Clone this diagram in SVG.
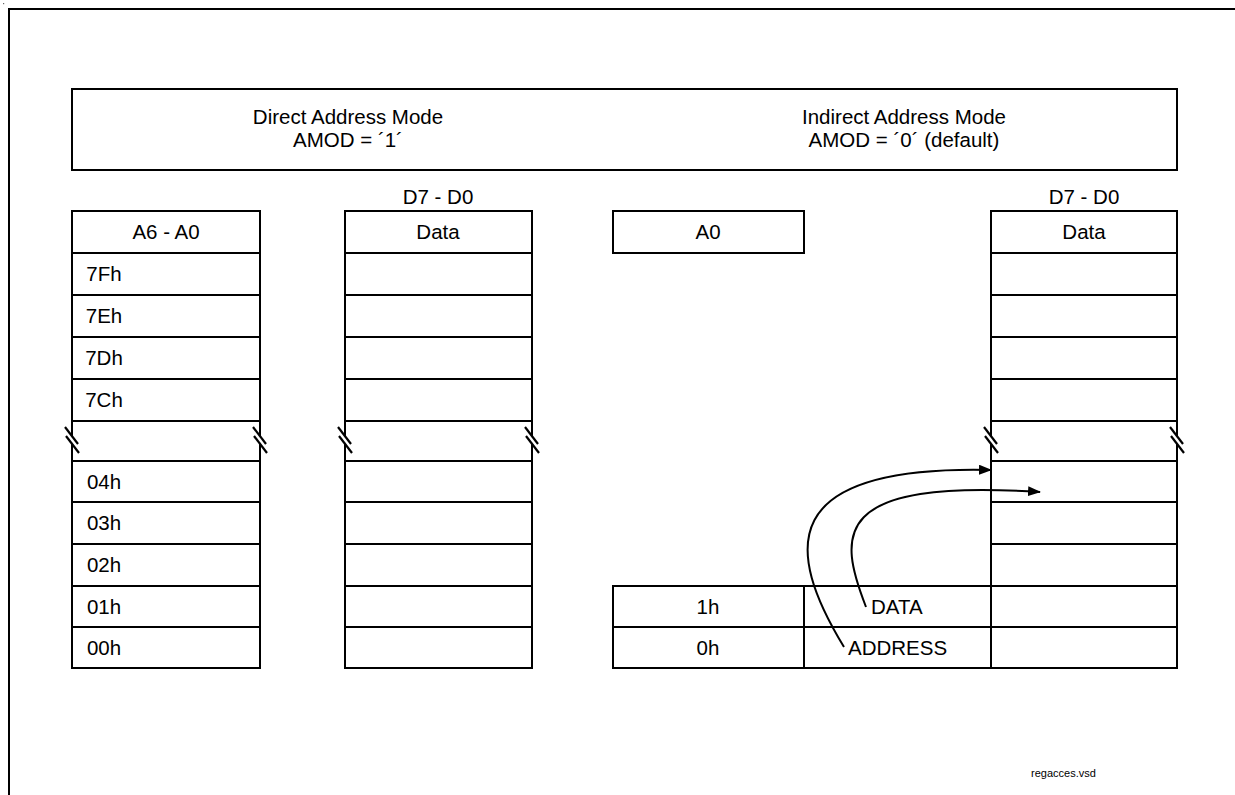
<svg xmlns="http://www.w3.org/2000/svg" width="1235" height="795" viewBox="0 0 1235 795">
<style>
  .box { fill: #fff; stroke: #000; stroke-width: 2; }
  .ln { stroke: #000; stroke-width: 2; fill: none; }
  .brk { stroke: #000; stroke-width: 2.2; fill: none; }
  text { font-family: "Liberation Sans", Arial, sans-serif; font-size: 20.5px; fill: #000; }
  .c { text-anchor: middle; }
  .small { font-size: 11px; }
  .conn { stroke: #000; stroke-width: 2; fill: none; marker-end: url(#ah); }
</style>
<defs>
  <marker id="ah" markerWidth="13" markerHeight="10" refX="12" refY="5" orient="auto" markerUnits="userSpaceOnUse">
    <path d="M0,0 L13,5 L0,10 Z" fill="#000"/>
  </marker>
  <g id="brkmark">
    <rect x="-2" y="-4" width="4" height="8" fill="#fff"/>
    <line x1="-7" y1="-13" x2="6" y2="4" class="brk"/>
    <line x1="-6" y1="-4" x2="7" y2="13" class="brk"/>
  </g>
</defs>
<rect width="1235" height="795" fill="#fff"/>
<rect x="3" y="3" width="1.2" height="1.2" fill="#666"/>
<g id="frame">
  <path d="M9,795 V9 H1235" class="ln"/>
</g>
<g id="header">
  <rect x="72" y="89" width="1105" height="81" class="box"/>
  <text x="348" y="124" class="c">Direct Address Mode</text>
  <text x="348" y="147" class="c">AMOD = ´1´</text>
  <text x="904" y="124" class="c">Indirect Address Mode</text>
  <text x="904" y="147" class="c">AMOD = ´0´ (default)</text>
</g>
<g id="direct-address">
  <rect x="72" y="211" width="188" height="457" class="box"/>
  <path d="M72,253 H260 M72,295 H260 M72,337 H260 M72,379 H260 M72,421 H260 M72,461 H260 M72,502 H260 M72,544 H260 M72,586 H260 M72,627 H260" class="ln"/>
  <use href="#brkmark" x="72" y="440"/>
  <use href="#brkmark" x="260" y="440"/>
  <text x="166" y="239" class="c">A6 - A0</text>
  <text x="104" y="281" class="c">7Fh</text>
  <text x="104" y="323" class="c">7Eh</text>
  <text x="104" y="365" class="c">7Dh</text>
  <text x="104" y="407" class="c">7Ch</text>
  <text x="104" y="489" class="c">04h</text>
  <text x="104" y="530" class="c">03h</text>
  <text x="104" y="572" class="c">02h</text>
  <text x="104" y="614" class="c">01h</text>
  <text x="104" y="655" class="c">00h</text>
</g>
<g id="direct-data">
  <text x="438" y="204" class="c">D7 - D0</text>
  <rect x="345" y="211" width="187" height="457" class="box"/>
  <path d="M345,253 H532 M345,295 H532 M345,337 H532 M345,379 H532 M345,421 H532 M345,461 H532 M345,502 H532 M345,544 H532 M345,586 H532 M345,627 H532" class="ln"/>
  <use href="#brkmark" x="345" y="440"/>
  <use href="#brkmark" x="532" y="440"/>
  <text x="438" y="239" class="c">Data</text>
</g>
<g id="indirect-a0">
  <rect x="613" y="211" width="191" height="42" class="box"/>
  <text x="708" y="239" class="c">A0</text>
</g>
<g id="indirect-regs">
  <rect x="613" y="586" width="378" height="82" class="box"/>
  <path d="M613,627 H991 M804,586 V668" class="ln"/>
  <text x="708" y="614" class="c">1h</text>
  <text x="708" y="655" class="c">0h</text>
  <text x="871" y="614">DATA</text>
  <text x="848" y="655">ADDRESS</text>
</g>
<g id="indirect-data">
  <text x="1084" y="204" class="c">D7 - D0</text>
  <rect x="991" y="211" width="186" height="457" class="box"/>
  <path d="M991,253 H1177 M991,295 H1177 M991,337 H1177 M991,379 H1177 M991,421 H1177 M991,461 H1177 M991,502 H1177 M991,544 H1177 M991,586 H1177 M991,627 H1177" class="ln"/>
  <use href="#brkmark" x="991" y="440"/>
  <use href="#brkmark" x="1177" y="440"/>
  <text x="1084" y="239" class="c">Data</text>
</g>
<g id="connectors">
  <path d="M844,647 C785,550 775,465 991,470" class="conn"/>
  <path d="M866,607 C838,535 830,478 1040,492" class="conn"/>
</g>
<text x="1031" y="777" class="small">regacces.vsd</text>
</svg>
